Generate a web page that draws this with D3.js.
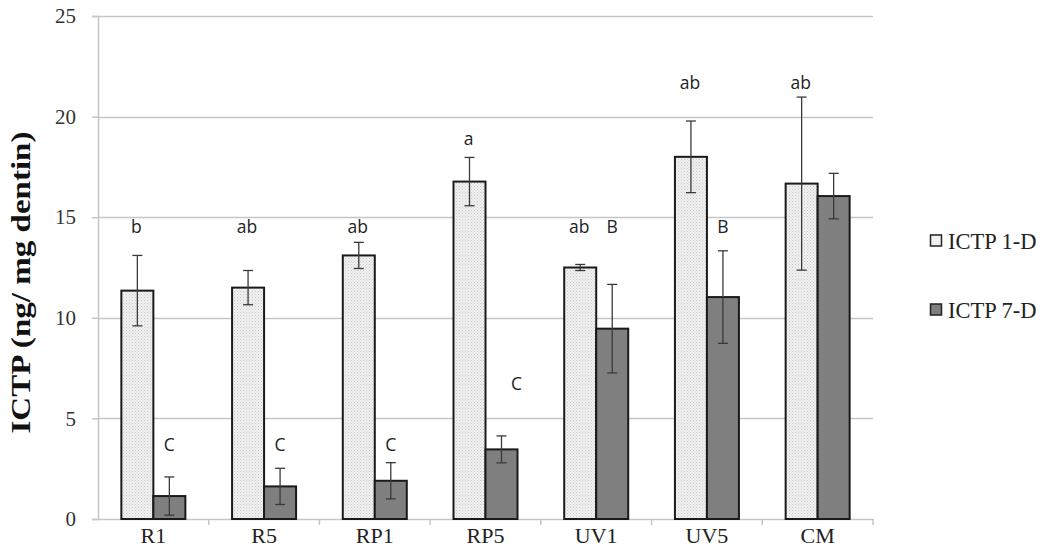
<!DOCTYPE html>
<html>
<head>
<meta charset="utf-8">
<script src="https://cdn.jsdelivr.net/npm/d3@7"></script>
<style>
  html, body { margin: 0; padding: 0; background: #fff; }
  svg { display: block; }
</style>
</head>
<body>
<svg id="chart" width="1050" height="558"></svg>
<script>
// ---- Data ----
const categories = ["R1", "R5", "RP1", "RP5", "UV1", "UV5", "CM"];
const seriesNames = ["ICTP 1-D", "ICTP 7-D"];
const values1D = [11.35, 11.5, 13.1, 16.77, 12.5, 18.0, 16.67];
const errors1D = [1.75, 0.85, 0.65, 1.2, 0.15, 1.78, 4.3];
const values7D = [1.14, 1.62, 1.9, 3.46, 9.46, 11.03, 16.05];
const errors7D = [0.95, 0.9, 0.9, 0.67, 2.2, 2.3, 1.13];
const letters1D = ["b", "ab", "ab", "a", "ab", "ab", "ab"];
const letterY1D = [14.5, 14.5, 14.5, 18.9, 14.5, 21.7, 21.7];
const letters7D = ["C", "C", "C", "C", "B", "B", ""];
const letterY7D = [3.7, 3.7, 3.7, 6.7, 14.5, 14.5, 0];
const yTicks = [0, 5, 10, 15, 20, 25];

// ---- Layout ----
const svg = d3.select("#chart");
const margin = { left: 98, right: 177, top: 16, bottom: 39 };
const W = 1050, H = 558;
const x0 = margin.left, x1 = W - margin.right;
const yBottom = H - margin.bottom, yTop = margin.top;

const x = d3.scaleBand().domain(categories).range([x0, x1]).paddingInner(0).paddingOuter(0);
const groupW = 64;
const xs = d3.scaleBand().domain(seriesNames).range([0, groupW]).padding(0);
const y = d3.scaleLinear().domain([0, 25]).range([yBottom, yTop]);

const serif = "Liberation Serif, Times New Roman, serif";

// pattern for 1-D bars
const defs = svg.append("defs");
const pat = defs.append("pattern").attr("id", "dots").attr("patternUnits", "userSpaceOnUse")
  .attr("width", 3).attr("height", 3);
pat.append("rect").attr("width", 3).attr("height", 3).attr("fill", "#f1f1f1");
pat.append("rect").attr("x", 0).attr("y", 0).attr("width", 1).attr("height", 1).attr("fill", "#c8c8c8");
pat.append("rect").attr("x", 1.5).attr("y", 1.5).attr("width", 1).attr("height", 1).attr("fill", "#d4d4d4");

const gridColor = "#c6c6c6";

// gridlines
svg.append("g").selectAll("line").data(yTicks.filter(t => t > 0)).join("line")
  .attr("x1", x0).attr("x2", x1)
  .attr("y1", d => Math.round(y(d)) + 0.5).attr("y2", d => Math.round(y(d)) + 0.5)
  .attr("stroke", gridColor).attr("stroke-width", 1.5);

// y axis
const yAxis = d3.axisLeft(y).tickValues(yTicks).tickSize(6).tickPadding(16).tickFormat(d3.format("d"));
const gy = svg.append("g").attr("transform", `translate(${x0},0)`).call(yAxis);
gy.select(".domain").attr("stroke", gridColor).attr("stroke-width", 1.5);
gy.selectAll(".tick line").attr("stroke", gridColor).attr("stroke-width", 1.5);
gy.selectAll(".tick text").attr("font-family", serif)
  .attr("font-size", 21).attr("fill", "#333");

// x axis
const xAxis = d3.axisBottom(x).tickSize(0).tickPadding(8);
const gx = svg.append("g").attr("transform", `translate(0,${yBottom})`).call(xAxis);
gx.select(".domain").attr("stroke", gridColor).attr("stroke-width", 1.5);
gx.selectAll(".tick text").attr("font-family", serif)
  .attr("font-size", 22).attr("fill", "#222");
// category boundary tick marks
svg.append("g").selectAll("line").data(categories).join("line")
  .attr("x1", d => x(d) + x.bandwidth())
  .attr("x2", d => x(d) + x.bandwidth())
  .attr("y1", yBottom).attr("y2", yBottom + 6)
  .attr("stroke", gridColor).attr("stroke-width", 1.5);

// bars
const series = [
  { name: seriesNames[0], vals: values1D, errs: errors1D, fill: "url(#dots)" },
  { name: seriesNames[1], vals: values7D, errs: errors7D, fill: "#7f7f7f" }
];

const barG = svg.append("g");
series.forEach(s => {
  categories.forEach((c, i) => {
    const bx = x(c) + (x.bandwidth() - groupW) / 2 + xs(s.name);
    barG.append("rect")
      .attr("x", bx).attr("y", y(s.vals[i]))
      .attr("width", xs.bandwidth()).attr("height", y(0) - y(s.vals[i]))
      .attr("fill", s.fill).attr("stroke", "#1a1a1a").attr("stroke-width", 2);
  });
});

// error bars
const errG = svg.append("g").attr("stroke", "#3a3a3a").attr("stroke-width", 1.3);
series.forEach(s => {
  categories.forEach((c, i) => {
    const cx = x(c) + (x.bandwidth() - groupW) / 2 + xs(s.name) + xs.bandwidth() / 2;
    const hi = y(s.vals[i] + s.errs[i]), lo = y(s.vals[i] - s.errs[i]);
    errG.append("line").attr("x1", cx).attr("x2", cx).attr("y1", hi).attr("y2", lo);
    errG.append("line").attr("x1", cx - 5).attr("x2", cx + 5).attr("y1", hi).attr("y2", hi);
    errG.append("line").attr("x1", cx - 5).attr("x2", cx + 5).attr("y1", lo).attr("y2", lo);
  });
});

// significance letters
const letG = svg.append("g").attr("font-family", "Open Sans, Noto Sans, sans-serif")
  .attr("font-size", 17.5).attr("fill", "#222").attr("text-anchor", "middle");
categories.forEach((c, i) => {
  const gx0 = x(c) + (x.bandwidth() - groupW) / 2;
  letG.append("text").attr("x", gx0 + xs(seriesNames[0]) + xs.bandwidth() / 2 - 1)
    .attr("y", y(letterY1D[i])).attr("dy", "0.35em").text(letters1D[i]);
  if (letters7D[i]) {
    letG.append("text").attr("x", gx0 + xs(seriesNames[1]) + xs.bandwidth() / 2 + (i === 3 ? 15 : 0))
      .attr("y", y(letterY7D[i])).attr("dy", "0.35em").text(letters7D[i]);
  }
});

// y axis title
svg.append("text")
  .attr("transform", `translate(30,${(yTop + yBottom) / 2 + 15}) rotate(-90)`)
  .attr("text-anchor", "middle")
  .attr("font-family", serif)
  .attr("font-weight", "bold").attr("font-size", 27).attr("fill", "#111")
  .attr("textLength", 302).attr("lengthAdjust", "spacingAndGlyphs")
  .text("ICTP (ng/ mg dentin)");

// legend
const legend = svg.append("g").attr("transform", "translate(930,0)");
const legY = [241, 310];
series.forEach((s, i) => {
  legend.append("rect").attr("x", 0.5).attr("y", legY[i] - 6).attr("width", 11).attr("height", 11)
    .attr("fill", i === 0 ? "#f1f1f1" : "#7f7f7f").attr("stroke", "#222").attr("stroke-width", 1.5);
  legend.append("text").attr("x", 18).attr("y", legY[i]).attr("dy", "0.35em")
    .attr("font-family", serif)
    .attr("font-size", 22.5).attr("fill", "#222").text(s.name);
});
</script>
</body>
</html>
